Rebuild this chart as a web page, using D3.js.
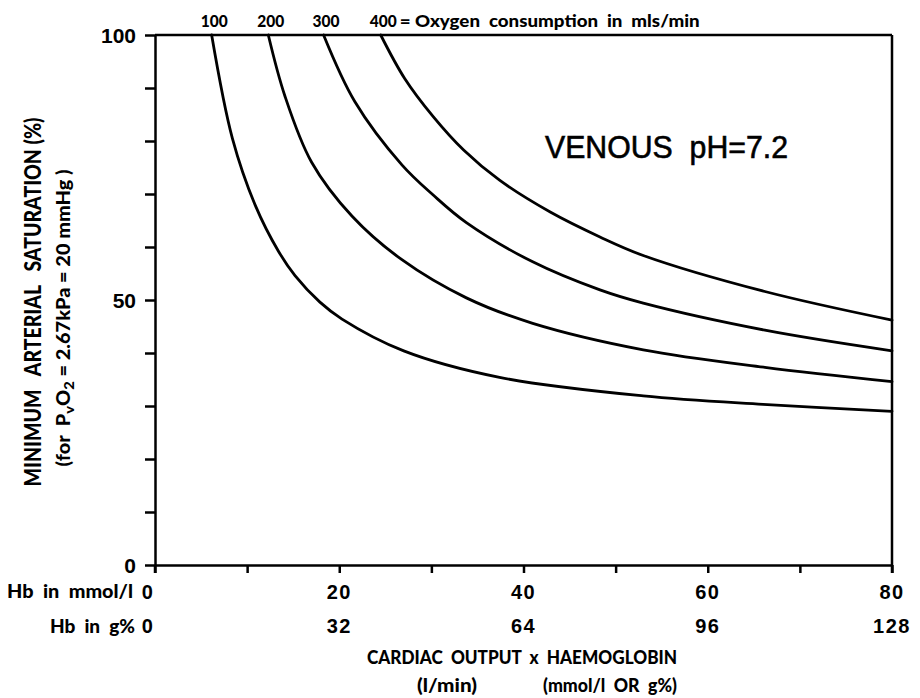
<!DOCTYPE html>
<html>
<head>
<meta charset="utf-8">
<script src="https://cdn.jsdelivr.net/npm/d3@7"></script>
<style>
  html, body { margin: 0; padding: 0; background: #fff; }
  svg { display: block; }
  text { white-space: pre; }
  .cond { font-family: Lato, Roboto, "DejaVu Sans", sans-serif; font-weight: 900; }
  .num { font-family: "Liberation Sans", Arial, Helvetica, sans-serif; font-weight: bold; }
</style>
</head>
<body>
<svg id="chart" width="920" height="698"></svg>
<script>
// ---- data ----
const consumption = [100, 200, 300, 400];            // O2 consumption, ml/min
const curve100 = [[6.15,100],[8.4,80.5],[10.9,67.8],[13.4,59.2],[15.2,54.6],[17.9,49.6],[20.3,46.4],[27,40.4],[37.4,35.4],[53,31.9],[66,30.3],[80,29]];
const curve200 = [[12.3,100],[14.1,88.5],[17,76],[21.4,65.8],[26.8,57.6],[33.8,50.4],[41,45.6],[53,40.6],[66.2,37.3],[80,34.6]];
const curve300 = [[18.3,100],[21.7,87.4],[26.8,75.5],[30.2,69.8],[33.8,64.6],[41,57.2],[48.3,51.9],[53,49.4],[66.2,44.3],[80,40.4]];
const curve400 = [[24.5,100],[27.1,91.8],[30.2,84.6],[33.5,78.3],[37.4,72.6],[42.9,66.6],[48.3,61.9],[53,58.4],[66.2,51.6],[80,46.2]];
const curves = [curve100, curve200, curve300, curve400];

const xTicks = [0,10,20,30,40,50,60,70,80];
const xLabelValues = [0,20,40,60,80];
const xLabelsMmol = ["0","20","40","60","80"];
const xLabelsG = ["0","32","64","96","128"];
const yTicks = [0,10,20,30,40,50,60,70,80,90,100];
const yLabelValues = [0,50,100];

// ---- layout ----
const svg = d3.select("#chart");
const x = d3.scaleLinear().domain([0, 80]).range([155, 892]);
const y = d3.scaleLinear().domain([0, 100]).range([565, 35]);

// axes
const gx = svg.append("g").attr("transform", `translate(0,${y(0)})`)
  .call(d3.axisBottom(x).tickValues(xTicks).tickSize(8).tickSizeOuter(0).tickFormat(""));
const gy = svg.append("g").attr("transform", `translate(${x(0)},0)`)
  .call(d3.axisLeft(y).tickValues(yTicks).tickSize(10).tickSizeOuter(0).tickFormat(""));
[gx, gy].forEach(g => {
  g.selectAll("path.domain").attr("stroke", "#000").attr("stroke-width", 2.5);
  g.selectAll(".tick line").attr("stroke", "#000").attr("stroke-width", 2.5);
});
svg.append("line").attr("x1", x(0)).attr("x2", x(0)).attr("y1", y(0)).attr("y2", y(0) + 8)
  .attr("stroke", "#000").attr("stroke-width", 2.5);
svg.append("line").attr("x1", x(0)).attr("x2", x(80)).attr("y1", y(100)).attr("y2", y(100))
  .attr("stroke", "#000").attr("stroke-width", 2.5);
svg.append("line").attr("x1", x(80)).attr("x2", x(80)).attr("y1", y(100)).attr("y2", y(0) + 8)
  .attr("stroke", "#000").attr("stroke-width", 2.5);

// curves
const line = d3.line().x(d => x(d[0])).y(d => y(d[1])).curve(d3.curveCatmullRom.alpha(0.5));
svg.append("g").selectAll("path").data(curves).join("path")
  .attr("d", line).attr("fill", "none").attr("stroke", "#000").attr("stroke-width", 2.8)
  .attr("stroke-linecap", "round");

// top labels (consumption) at curve tops
svg.append("g").selectAll("text").data(consumption).join("text")
  .attr("class", "cond")
  .attr("x", (d, i) => x(curves[i][0][0]) - 11)
  .attr("y", 27).attr("font-size", 17)
  .attr("textLength", 27).attr("lengthAdjust", "spacingAndGlyphs")
  .text(d => d);
svg.append("text").attr("class", "cond")
  .attr("x", x(curve400[0][0]) + 19).attr("y", 27).attr("font-size", 17)
  .attr("textLength", 300).attr("lengthAdjust", "spacingAndGlyphs")
  .text("= Oxygen  consumption  in  mls/min");

// y labels
svg.append("g").selectAll("text").data(yLabelValues).join("text")
  .attr("class", "num").attr("x", 136).attr("y", d => y(d) + 7.5)
  .attr("text-anchor", "end").attr("font-size", 21)
  .text(d => d);

// x label rows
svg.append("g").selectAll("text").data(xLabelValues).join("text")
  .attr("class", "num").attr("x", (d, i) => x(d) + (i === 0 ? -7 : 0)).attr("y", 599)
  .attr("text-anchor", "middle").attr("font-size", 20).attr("letter-spacing", 1.5)
  .text((d, i) => xLabelsMmol[i]);
svg.append("g").selectAll("text").data(xLabelValues).join("text")
  .attr("class", "num").attr("x", (d, i) => x(d) + (i === 0 ? -7 : 0)).attr("y", 633)
  .attr("text-anchor", "middle").attr("font-size", 20).attr("letter-spacing", 1.5)
  .text((d, i) => xLabelsG[i]);
svg.append("text").attr("class", "cond").attr("x", 7).attr("y", 598)
  .attr("font-size", 18)
  .attr("textLength", 126).attr("lengthAdjust", "spacingAndGlyphs")
  .text("Hb  in  mmol/l");
svg.append("text").attr("class", "cond").attr("x", 50).attr("y", 633)
  .attr("font-size", 18)
  .attr("textLength", 85).attr("lengthAdjust", "spacingAndGlyphs")
  .text("Hb  in  g%");

// x title
svg.append("text").attr("class", "cond").attr("x", 367).attr("y", 664).attr("font-size", 18)
  .attr("textLength", 310).attr("lengthAdjust", "spacingAndGlyphs")
  .text("CARDIAC  OUTPUT  x  HAEMOGLOBIN");
svg.append("text").attr("class", "cond").attr("x", 417).attr("y", 692).attr("font-size", 18)
  .attr("textLength", 60).attr("lengthAdjust", "spacingAndGlyphs")
  .text("(l/min)");
svg.append("text").attr("class", "cond").attr("x", 543).attr("y", 692).attr("font-size", 18)
  .attr("textLength", 134).attr("lengthAdjust", "spacingAndGlyphs")
  .text("(mmol/l  OR  g%)");

// y titles
svg.append("text").attr("class", "cond")
  .attr("transform", "translate(41,302) rotate(-90)")
  .attr("text-anchor", "middle").attr("font-size", 22)
  .attr("textLength", 369).attr("lengthAdjust", "spacingAndGlyphs")
  .text("MINIMUM   ARTERIAL   SATURATION (%)");
const sub = svg.append("text").attr("class", "cond")
  .attr("transform", "translate(70,318) rotate(-90)")
  .attr("text-anchor", "middle").attr("font-size", 19)
  .attr("textLength", 297).attr("lengthAdjust", "spacingAndGlyphs");
sub.append("tspan").text("(for  P");
sub.append("tspan").attr("font-size", 14).attr("dy", 4).text("v");
sub.append("tspan").attr("dy", -4).text("O");
sub.append("tspan").attr("font-size", 14).attr("dy", 4).text("2");
sub.append("tspan").attr("dy", -4).text(" = 2.67kPa = 20 mmHg )");

// annotation
svg.append("text").attr("class", "num").style("font-weight", "normal")
  .attr("stroke", "#000").attr("stroke-width", 0.6)
  .attr("x", 545).attr("y", 158).attr("font-size", 31)
  .attr("textLength", 243).attr("lengthAdjust", "spacingAndGlyphs")
  .text("VENOUS  pH=7.2");
</script>
</body>
</html>
